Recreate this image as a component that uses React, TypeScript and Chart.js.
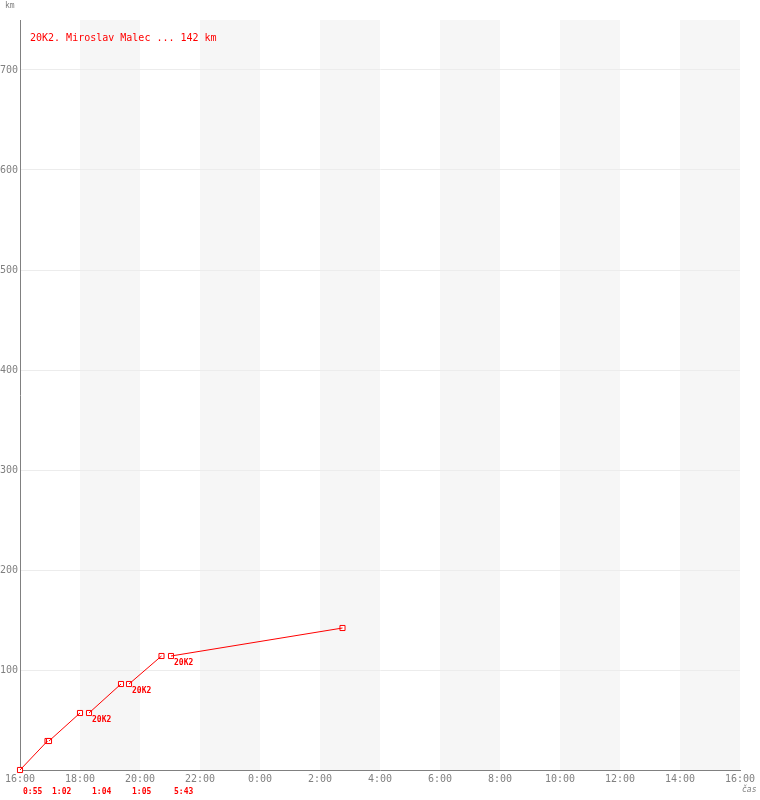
import React, { useEffect, useRef } from "react";
import { Chart, registerables } from "chart.js";

Chart.register(...registerables);

// ---- data ----
const seriesLabel = "20K2. Miroslav Malec ... 142 km";
const legStartTime = ["16:00", "16:58", "18:18", "19:38", "21:02"];
const legEndTime = ["16:55", "18:00", "19:22", "20:43", "02:45"];
const legStartKm = [0, 29, 57, 86, 114];
const legEndKm = [29, 57, 86, 114, 142];
const legDuration = ["0:55", "1:02", "1:04", "1:05", "5:43"];
const legStartLabel = ["", "", "20K2", "20K2", "20K2"];
const xTickLabels = ["16:00", "18:00", "20:00", "22:00", "0:00", "2:00", "4:00", "6:00", "8:00", "10:00", "12:00", "14:00", "16:00"];
const yTicks = [100, 200, 300, 400, 500, 600, 700];
const shadedBandStart = ["18:00", "22:00", "2:00", "6:00", "10:00", "14:00"];
const bandHours = 2;
const startHour = 16;
const yMax = 750;
const xUnit = "čas";
const yUnit = "km";

const RED = "#ff0000";
const GRAY = "#808080";
const MONO = "'DejaVu Sans Mono', 'Liberation Mono', monospace";

function toHours(s: string): number {
  const [h, m] = s.split(":").map(Number);
  let v = h + m / 60 - startHour;
  if (v < 0) v += 24;
  return v;
}

export default function App() {
  const ref = useRef<HTMLCanvasElement | null>(null);

  useEffect(() => {
    if (!ref.current) return;
    const lineData: any[] = [];
    const pointData: any[] = [];
    legStartTime.forEach((t, i) => {
      const a = { x: toHours(t), y: legStartKm[i] };
      const b = { x: toHours(legEndTime[i]), y: legEndKm[i] };
      lineData.push(a, b, { x: (b.x + toHours(legStartTime[i + 1] ?? legEndTime[i])) / 2, y: null });
      pointData.push(a, b);
    });

    const bandsPlugin = {
      id: "bands",
      beforeDraw(chart: any) {
        const { ctx, chartArea, scales } = chart;
        ctx.save();
        ctx.fillStyle = "#f6f6f6";
        shadedBandStart.forEach((s) => {
          const h = toHours(s);
          const x0 = scales.x.getPixelForValue(h);
          const x1 = scales.x.getPixelForValue(h + bandHours);
          ctx.fillRect(x0, chartArea.top, x1 - x0, chartArea.bottom - chartArea.top);
        });
        ctx.restore();
      },
    };

    const textPlugin = {
      id: "texts",
      afterDatasetsDraw(chart: any) {
        const { ctx, chartArea, scales } = chart;
        ctx.save();
        ctx.textBaseline = "middle";
        ctx.textAlign = "left";
        // legend
        ctx.fillStyle = RED;
        ctx.font = `10px ${MONO}`;
        ctx.fillText(seriesLabel, chartArea.left + 10, chartArea.top + 18);
        // stop labels
        ctx.font = `bold 8px ${MONO}`;
        legStartTime.forEach((t, i) => {
          if (!legStartLabel[i]) return;
          const x = scales.x.getPixelForValue(toHours(t));
          const y = scales.y.getPixelForValue(legStartKm[i]);
          ctx.fillText(legStartLabel[i], x + 3, y + 7);
        });
        // durations
        legStartTime.forEach((t, i) => {
          const x = scales.x.getPixelForValue(toHours(t));
          ctx.fillText(legDuration[i], x + 3, chartArea.bottom + 22);
        });
        // units
        ctx.fillStyle = GRAY;
        ctx.font = `8px ${MONO}`;
        ctx.fillText(yUnit, 5, 6);
        ctx.font = `italic 8px ${MONO}`;
        ctx.fillText(xUnit, chartArea.right + 2, chartArea.bottom + 20);
        ctx.restore();
      },
    };

    const chart = new Chart(ref.current, {
      type: "line",
      data: {
        datasets: [
          {
            label: seriesLabel,
            data: lineData,
            borderColor: RED,
            borderWidth: 1,
            pointRadius: 0,
            spanGaps: false,
            fill: false,
            clip: false,
          },
          {
            label: "markers",
            data: pointData,
            showLine: false,
            clip: false,
            pointStyle: "rect",
            pointRadius: 3.6,
            pointBorderWidth: 1,
            pointBorderColor: RED,
            pointBackgroundColor: "rgba(255,255,255,1)",
          },
          {
            label: "marker dots",
            data: pointData,
            showLine: false,
            clip: false,
            pointStyle: "rect",
            pointRadius: 0.8,
            pointBorderWidth: 0,
            pointBackgroundColor: RED,
          },
        ],
      },
      options: {
        animation: false,
        responsive: false,
        maintainAspectRatio: false,
        layout: { padding: { top: 20, right: 20, left: 0, bottom: 0 } },
        plugins: { legend: { display: false }, tooltip: { enabled: false } },
        scales: {
          x: {
            type: "linear",
            min: 0,
            max: 24,
            afterFit: (s: any) => { s.height = 30; },
            afterBuildTicks: (s: any) => {
              s.ticks = xTickLabels.map((_, i) => ({ value: i * 2 }));
            },
            grid: { display: false, drawTicks: false },
            border: { display: true, color: GRAY, width: 1 },
            ticks: {
              autoSkip: false,
              maxRotation: 0,
              padding: 3,
              color: GRAY,
              font: { family: MONO, size: 10 },
              callback: (v: any, i: number) => xTickLabels[i],
            },
          },
          y: {
            type: "linear",
            min: 0,
            max: yMax,
            afterFit: (s: any) => { s.width = 20; },
            afterBuildTicks: (s: any) => {
              s.ticks = yTicks.map((v) => ({ value: v }));
            },
            grid: { color: "#ececec", drawTicks: false, lineWidth: 1 },
            border: { display: true, color: GRAY, width: 1 },
            ticks: {
              padding: 2,
              color: GRAY,
              font: { family: MONO, size: 10 },
              callback: (v: any) => String(v),
            },
          },
        },
      },
      plugins: [bandsPlugin, textPlugin],
    });
    return () => chart.destroy();
  }, []);

  return (
    <div style={{ position: "absolute", left: 0, top: 0, width: 760, height: 800, background: "#fff" }}>
      <canvas ref={ref} width={760} height={800} />
    </div>
  );
}
